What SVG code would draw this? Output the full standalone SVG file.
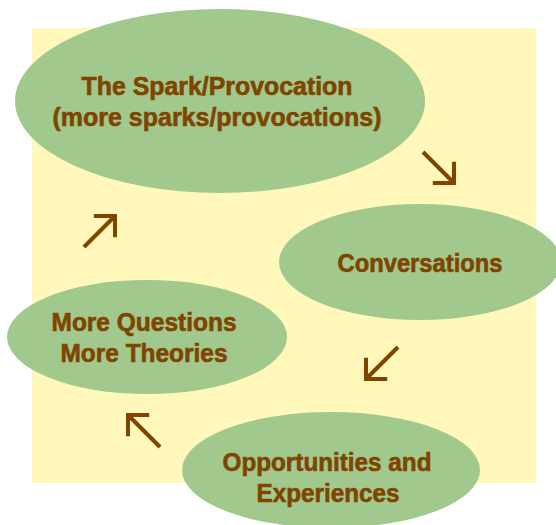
<svg xmlns="http://www.w3.org/2000/svg" width="556" height="525" viewBox="0 0 556 525">
  <defs>
    <marker id="head" markerUnits="userSpaceOnUse" markerWidth="40" markerHeight="40" viewBox="-20 -20 40 40" refX="0" refY="0" orient="auto">
      <path d="M -15 -15 L 0 0 L -15 15" fill="none" stroke="#7F4500" stroke-width="4" stroke-linejoin="miter"/>
    </marker>
    <style>
      .node ellipse { fill: #A1C98D; }
      .node text { fill: #7F4500; stroke: #7F4500; stroke-width: 0.6px; font-family: "Liberation Sans Narrow", "Liberation Sans", Arial, sans-serif; font-weight: bold; font-size: 25px; text-anchor: middle; }
      .conn line { stroke: #7F4500; stroke-width: 4; marker-end: url(#head); }
    </style>
  </defs>
  <rect x="32" y="28" width="504" height="455" fill="#FFF8BA"/>
  <g class="conn" id="connectors">
    <line x1="423" y1="152" x2="454" y2="183"/>
    <line x1="398" y1="347" x2="366" y2="379"/>
    <line x1="160" y1="447" x2="128" y2="415"/>
    <line x1="84" y1="247" x2="115" y2="216"/>
  </g>
  <g class="node" id="spark">
    <ellipse cx="220" cy="101" rx="205" ry="92"/>
    <text x="217" y="95" textLength="271" lengthAdjust="spacingAndGlyphs">The Spark/Provocation</text>
    <text x="217" y="126" textLength="329" lengthAdjust="spacingAndGlyphs">(more sparks/provocations)</text>
  </g>
  <g class="node" id="conversations">
    <ellipse cx="420" cy="262" rx="141" ry="58"/>
    <text x="420" y="272" textLength="165" lengthAdjust="spacingAndGlyphs">Conversations</text>
  </g>
  <g class="node" id="questions">
    <ellipse cx="147" cy="337" rx="140" ry="57"/>
    <text x="144" y="331" textLength="185" lengthAdjust="spacingAndGlyphs">More Questions</text>
    <text x="144" y="362" textLength="167" lengthAdjust="spacingAndGlyphs">More Theories</text>
  </g>
  <g class="node" id="opportunities">
    <ellipse cx="331" cy="470" rx="149" ry="58"/>
    <text x="327" y="471" textLength="209" lengthAdjust="spacingAndGlyphs">Opportunities and</text>
    <text x="328" y="502" textLength="143" lengthAdjust="spacingAndGlyphs">Experiences</text>
  </g>
</svg>
